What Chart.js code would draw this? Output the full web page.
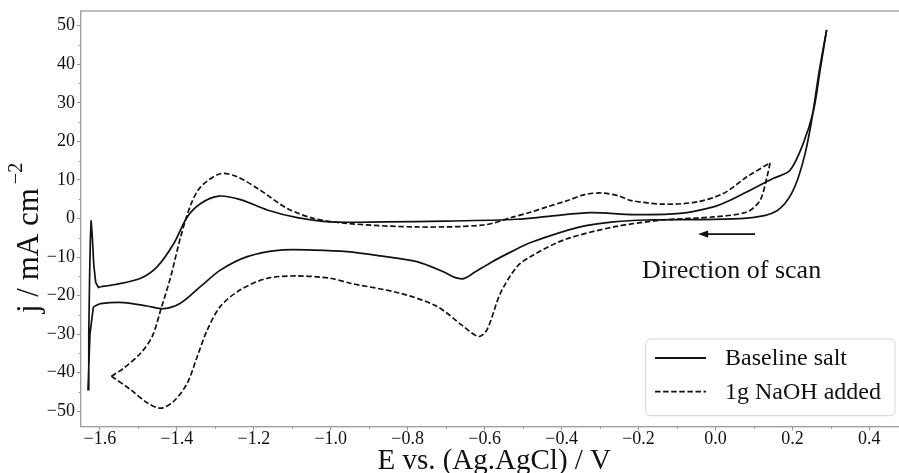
<!DOCTYPE html>
<html>
<head>
<meta charset="utf-8">
<script src="https://cdn.jsdelivr.net/npm/chart.js@4.4.1/dist/chart.umd.min.js"></script>
<style>
  html, body { margin: 0; padding: 0; background: #fff; overflow: hidden; }
  #wrap { width: 912px; height: 473px; }
  canvas { display: block; }
</style>
</head>
<body>
<div id="wrap"><canvas id="cv" width="912" height="473"></canvas></div>
<script>
// Cyclic voltammograms: potential E (V vs Ag/AgCl) against current density j (mA cm^-2)

const seriesNames = ['Baseline salt', '1g NaOH added'];

// Baseline salt: cathodic sweep from the anodic vertex down to the cathodic limit
const baseCathE = [0.289, 0.270, 0.250, 0.233, 0.215, 0.198, 0.180, 0.160, 0.130, 0.082, -0.005, -0.178, -0.265, -0.352, -0.482, -0.530, -0.580, -0.625, -0.655, -0.680, -0.706, -0.776, -0.871, -0.957, -1.044, -1.131, -1.217, -1.287, -1.339, -1.391, -1.434, -1.477, -1.538, -1.598, -1.617];
const baseCathJ = [48.9, 38.4, 25.4, 16.8, 10.5, 6.5, 3.8, 2.0, 0.8, 0.1, -0.25, -0.4, -0.9, -2.2, -6.3, -8.6, -11.2, -13.9, -15.6, -15.2, -13.9, -11.2, -9.7, -8.6, -8.2, -8.2, -9.9, -13.4, -17.7, -22.0, -23.4, -22.7, -21.8, -22.1, -22.9];

// Baseline salt: turnaround spike at the cathodic limit
const baseTurnE = [-1.617, -1.626, -1.631, -1.629, -1.627, -1.625, -1.623, -1.620, -1.616, -1.611, -1.604, -1.598];
const baseTurnJ = [-22.9, -30.0, -44.4, -30.0, -16.0, -6.0, -0.5, -4.5, -12.0, -16.6, -17.9, -17.7];

// Baseline salt: anodic return sweep
const baseAnodE = [-1.598, -1.564, -1.494, -1.451, -1.408, -1.373, -1.338, -1.291, -1.235, -1.165, -1.087, -1.001, -0.863, -0.700, -0.516, -0.429, -0.325, -0.213, -0.092, -0.005, 0.038, 0.099, 0.151, 0.194, 0.228, 0.255, 0.272, 0.289];
const baseAnodJ = [-17.7, -17.2, -15.5, -12.5, -6.5, 0.4, 3.9, 5.8, 4.9, 2.2, 0.2, -0.9, -0.9, -0.7, -0.2, 0.6, 1.5, 1.0, 1.3, 3.0, 4.7, 7.8, 10.4, 12.5, 19.4, 28.0, 38.4, 48.9];

// 1g NaOH added: cathodic sweep
const naohCathE = [0.142, 0.134, 0.116, 0.082, -0.005, -0.135, -0.265, -0.395, -0.481, -0.516, -0.559, -0.594, -0.616, -0.655, -0.724, -0.819, -0.949, -1.001, -1.087, -1.165, -1.235, -1.287, -1.321, -1.347, -1.373, -1.408, -1.442, -1.477, -1.520, -1.570];
const naohCathJ = [14.4, 10.8, 4.7, 1.7, 0.4, -0.4, -2.2, -5.6, -9.9, -12.5, -19.4, -28.9, -30.6, -28.0, -22.8, -19.4, -16.8, -15.5, -14.9, -15.5, -18.5, -22.8, -28.9, -35.8, -42.7, -47.4, -49.2, -47.8, -44.4, -40.9];

// 1g NaOH added: anodic sweep
const naohAnodE = [-1.570, -1.538, -1.494, -1.464, -1.442, -1.416, -1.390, -1.364, -1.338, -1.287, -1.243, -1.183, -1.113, -1.044, -0.957, -0.776, -0.603, -0.525, -0.481, -0.438, -0.386, -0.340, -0.295, -0.250, -0.222, -0.135, -0.048, 0.021, 0.082, 0.142];
const naohAnodJ = [-40.9, -38.8, -34.9, -30.6, -23.7, -15.1, -4.7, 3.5, 8.2, 11.6, 10.8, 7.3, 2.6, 0.0, -1.3, -2.2, -1.7, 0.4, 1.6, 3.0, 4.6, 6.2, 6.6, 5.8, 4.7, 3.7, 4.3, 6.5, 10.8, 14.4];

// Axis ticks
const xTickValues = [-1.6, -1.4, -1.2, -1.0, -0.8, -0.6, -0.4, -0.2, 0.0, 0.2, 0.4];
const xMinorValues = [-1.5, -1.3, -1.1, -0.9, -0.7, -0.5, -0.3, -0.1, 0.1, 0.3];
const yTickValues = [-50, -40, -30, -20, -10, 0, 10, 20, 30, 40, 50];
const yMinorValues = [-45, -35, -25, -15, -5, 5, 15, 25, 35, 45];

// Scan-direction note
const scanNote = 'Direction of scan';
const scanArrow = { fromE: 0.103, toE: -0.045, j: -4.05 };
const scanText = { e: 0.042, j: -15.5 };

const SERIF = "'Liberation Serif', 'Times New Roman', serif";
const INK = '#111111';
const FRAME = '#9a9a9a';
const DASH = [5.5, 2.6];

const pts = (xs, ys) => xs.map((x, i) => ({ x, y: ys[i] }));
const branch = (xs, ys, series, tension) => ({
  label: seriesNames[series],
  data: pts(xs, ys),
  showLine: true,
  borderColor: INK,
  backgroundColor: INK,
  borderWidth: 1.7,
  borderDash: series ? DASH : [],
  tension,
  pointRadius: 0,
  pointHoverRadius: 0,
  fill: false
});

const minus = s => s.replace('-', '\u2212');

const overlay = {
  id: 'overlay',
  afterDatasetsDraw(chart) {
    const { ctx, chartArea: ca, scales: { x, y } } = chart;
    ctx.save();
    // axes frame
    ctx.strokeStyle = FRAME;
    ctx.lineWidth = 1.3;
    ctx.strokeRect(ca.left, ca.top, ca.right - ca.left, ca.bottom - ca.top);
    // minor ticks
    ctx.lineWidth = 1;
    ctx.beginPath();
    xMinorValues.forEach(v => {
      const px = Math.round(x.getPixelForValue(v)) + 0.5;
      ctx.moveTo(px, ca.bottom); ctx.lineTo(px, ca.bottom + 2.2);
    });
    yMinorValues.forEach(v => {
      const py = Math.round(y.getPixelForValue(v)) + 0.5;
      ctx.moveTo(ca.left, py); ctx.lineTo(ca.left - 2.2, py);
    });
    ctx.stroke();

    // scan direction arrow
    const ax0 = x.getPixelForValue(scanArrow.fromE);
    const ax1 = x.getPixelForValue(scanArrow.toE);
    const ay = y.getPixelForValue(scanArrow.j);
    ctx.strokeStyle = INK;
    ctx.fillStyle = INK;
    ctx.lineWidth = 1.8;
    ctx.beginPath();
    ctx.moveTo(ax0, ay); ctx.lineTo(ax1 + 8, ay);
    ctx.stroke();
    ctx.beginPath();
    ctx.moveTo(ax1, ay);
    ctx.lineTo(ax1 + 10, ay - 3.6);
    ctx.lineTo(ax1 + 10, ay + 3.6);
    ctx.closePath();
    ctx.fill();

    ctx.font = `26px ${SERIF}`;
    ctx.textAlign = 'center';
    ctx.textBaseline = 'alphabetic';
    ctx.fillText(scanNote, x.getPixelForValue(scanText.e), y.getPixelForValue(scanText.j));

    // legend
    const lw = 249.3, lh = 76.7;
    const lx = ca.right - 12.8 - lw;
    const ly = ca.bottom - 11 - lh;
    ctx.beginPath();
    ctx.roundRect(lx, ly, lw, lh, 5);
    ctx.fillStyle = 'rgba(255,255,255,0.85)';
    ctx.fill();
    ctx.strokeStyle = '#d6d6d6';
    ctx.lineWidth = 1;
    ctx.stroke();
    ctx.font = `24px ${SERIF}`;
    ctx.textAlign = 'left';
    ctx.textBaseline = 'middle';
    seriesNames.forEach((name, i) => {
      const ry = ly + 19 + i * 33.7;
      ctx.strokeStyle = INK;
      ctx.lineWidth = 1.8;
      ctx.setLineDash(i ? DASH : []);
      ctx.beginPath();
      ctx.moveTo(lx + 9.3, ry); ctx.lineTo(lx + 60.3, ry);
      ctx.stroke();
      ctx.setLineDash([]);
      ctx.fillStyle = INK;
      ctx.fillText(name, lx + 79.3, ry + 1);
    });
    ctx.restore();
  },
  afterDraw(chart) {
    // y-axis title with superscript exponent
    const { ctx } = chart;
    ctx.save();
    ctx.translate(37.5, 313);
    ctx.rotate(-Math.PI / 2);
    ctx.fillStyle = INK;
    ctx.textAlign = 'left';
    ctx.textBaseline = 'alphabetic';
    ctx.font = `31px ${SERIF}`;
    const main = 'j / mA cm';
    ctx.fillText(main, 0, 0);
    const w = ctx.measureText(main).width;
    ctx.font = `20px ${SERIF}`;
    ctx.fillText('\u22122', w + 4, -16);
    ctx.restore();
  }
};

new Chart(document.getElementById('cv'), {
  type: 'scatter',
  data: {
    datasets: [
      branch(baseCathE, baseCathJ, 0, 0.3),
      branch(baseTurnE, baseTurnJ, 0, 0),
      branch(baseAnodE, baseAnodJ, 0, 0.3),
      branch(naohCathE, naohCathJ, 1, 0.3),
      branch(naohAnodE, naohAnodJ, 1, 0.3)
    ]
  },
  options: {
    responsive: false,
    animation: false,
    events: [],
    layout: { padding: { left: 0, right: 4.2, top: 10.3, bottom: 0 } },
    plugins: { legend: { display: false }, tooltip: { enabled: false } },
    scales: {
      x: {
        type: 'linear',
        min: -1.65,
        max: 0.5,
        afterFit: s => { s.height = 46.3; },
        afterBuildTicks: s => { s.ticks = xTickValues.map(v => ({ value: v })); },
        border: { display: false },
        grid: { drawOnChartArea: false, drawTicks: true, tickLength: 3.8, color: FRAME, tickWidth: 1.1 },
        ticks: {
          autoSkip: false, maxRotation: 0, padding: 0, color: INK,
          font: { family: SERIF, size: 18, lineHeight: 1 },
          callback: v => minus(Number(v).toFixed(1))
        },
        title: {
          display: true, text: 'E vs. (Ag.AgCl) / V', color: INK,
          font: { family: SERIF, size: 29, lineHeight: 0.8 },
          padding: { top: 0, bottom: 0 }
        }
      },
      y: {
        type: 'linear',
        min: -54.0,
        max: 53.8,
        afterFit: s => { s.width = 80.7; },
        afterBuildTicks: s => { s.ticks = yTickValues.map(v => ({ value: v })); },
        border: { display: false },
        grid: { drawOnChartArea: false, drawTicks: true, tickLength: 3.8, color: FRAME, tickWidth: 1.1 },
        ticks: {
          padding: 2, color: INK,
          font: { family: SERIF, size: 18, lineHeight: 1 },
          callback: v => minus(String(Math.round(v)))
        }
      }
    }
  },
  plugins: [overlay]
});
</script>
</body>
</html>
